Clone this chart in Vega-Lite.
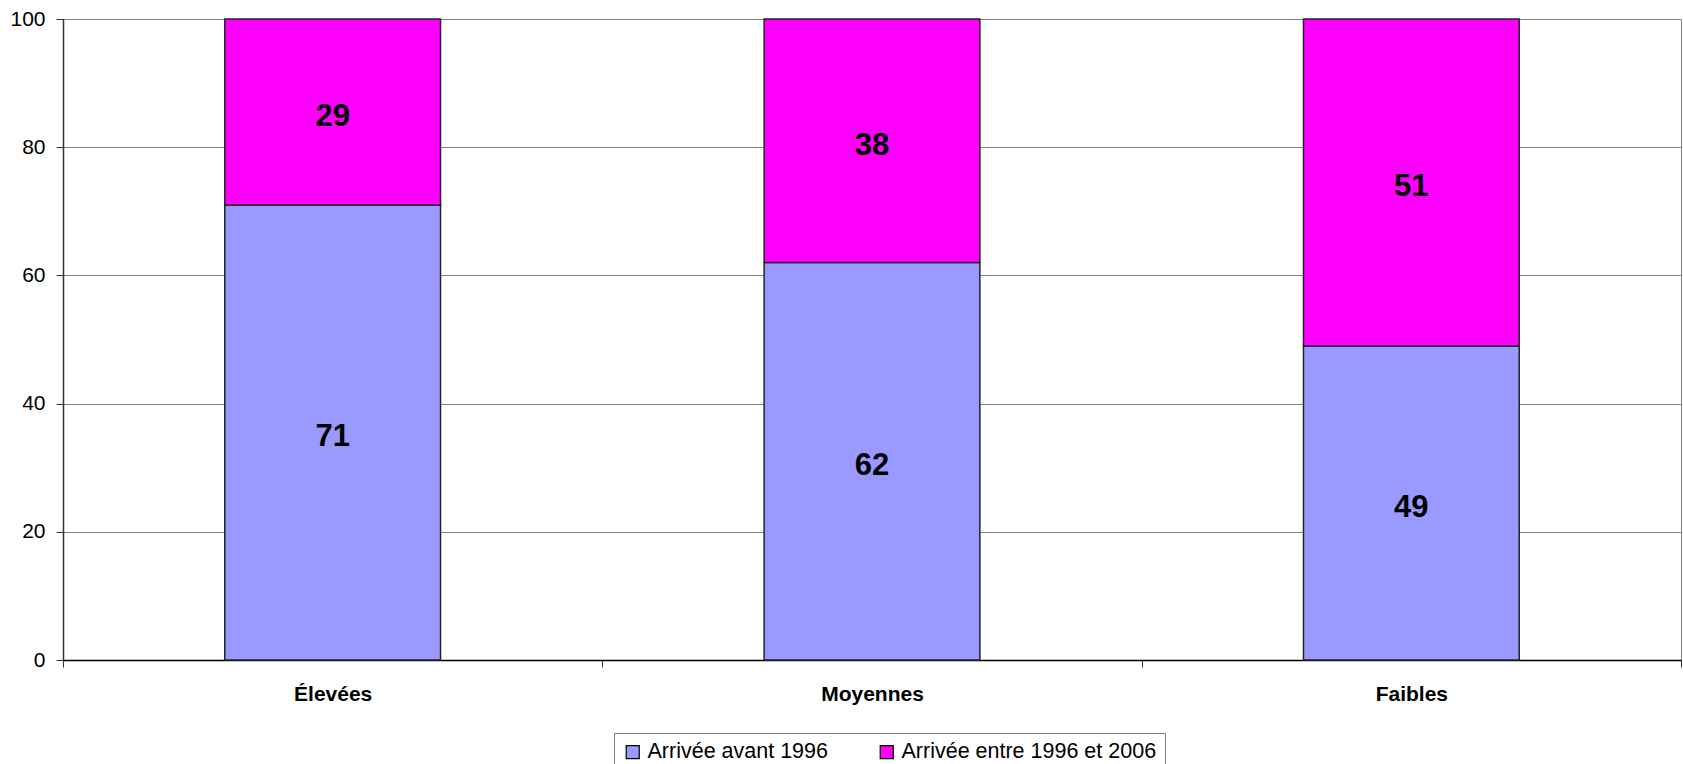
{
  "$schema": "https://vega.github.io/schema/vega-lite/v6.json",
  "width": 1618,
  "height": 641,
  "autosize": {"type": "none"},
  "padding": {"left": 63, "top": 19, "right": 2, "bottom": 104},
  "background": "white",
  "config": {
    "font": "Liberation Sans",
    "view": {"stroke": "#808080", "strokeWidth": 1}
  },
  "data": {
    "values": [
      {"cat": "Élevées", "serie": "Arrivée avant 1996", "ord": 1, "val": 71},
      {"cat": "Élevées", "serie": "Arrivée entre 1996 et 2006", "ord": 2, "val": 29},
      {"cat": "Moyennes", "serie": "Arrivée avant 1996", "ord": 1, "val": 62},
      {"cat": "Moyennes", "serie": "Arrivée entre 1996 et 2006", "ord": 2, "val": 38},
      {"cat": "Faibles", "serie": "Arrivée avant 1996", "ord": 1, "val": 49},
      {"cat": "Faibles", "serie": "Arrivée entre 1996 et 2006", "ord": 2, "val": 51}
    ]
  },
  "encoding": {
    "x": {
      "field": "cat",
      "type": "nominal",
      "sort": ["Élevées", "Moyennes", "Faibles"],
      "scale": {"paddingInner": 0, "paddingOuter": 0},
      "axis": {
        "title": null,
        "labelAngle": 0,
        "labelFont": "Liberation Sans",
        "labelFontSize": 21,
        "labelFontWeight": "bold",
        "labelColor": "black",
        "labelPadding": 16,
        "tickBand": "extent",
        "tickSize": 7,
        "tickColor": "#333333",
        "domainColor": "black",
        "domainWidth": 1.5,
        "grid": false
      }
    },
    "y": {
      "field": "val",
      "type": "quantitative",
      "stack": "zero",
      "scale": {"domain": [0, 100]},
      "axis": {
        "title": null,
        "values": [0, 20, 40, 60, 80, 100],
        "labelFont": "Liberation Sans",
        "labelFontSize": 21,
        "labelColor": "black",
        "labelPadding": 11,
        "tickSize": 7,
        "tickColor": "#333333",
        "domainColor": "#333333",
        "domainWidth": 1.5,
        "grid": true,
        "gridColor": "#808080",
        "gridWidth": 1
      }
    },
    "order": {"field": "ord", "type": "quantitative"}
  },
  "layer": [
    {
      "mark": {"type": "bar", "stroke": "#222222", "strokeWidth": 1.5, "width": {"band": 0.4}},
      "encoding": {
        "color": {
          "field": "serie",
          "type": "nominal",
          "scale": {
            "domain": ["Arrivée avant 1996", "Arrivée entre 1996 et 2006"],
            "range": ["#9999FF", "#FF00FF"]
          },
          "legend": {
            "title": null,
            "orient": "none",
            "direction": "horizontal",
            "legendX": 551,
            "legendY": 714,
            "padding": 8,
            "strokeColor": "#808080",
            "symbolType": "square",
            "symbolSize": 170,
            "symbolStrokeColor": "black",
            "symbolStrokeWidth": 1.2,
            "symbolOpacity": 1,
            "labelFont": "Liberation Sans",
            "labelFontSize": 21.5,
            "labelColor": "black",
            "labelOffset": 4,
            "labelLimit": 500,
            "columnPadding": 48
          }
        }
      }
    },
    {
      "mark": {"type": "text", "fontSize": 31, "fontWeight": "bold", "color": "black", "baseline": "middle", "dy": 5, "font": "Liberation Sans"},
      "encoding": {
        "y": {"field": "val", "type": "quantitative", "stack": "zero", "bandPosition": 0.5},
        "text": {"field": "val", "type": "quantitative"}
      }
    }
  ]
}
